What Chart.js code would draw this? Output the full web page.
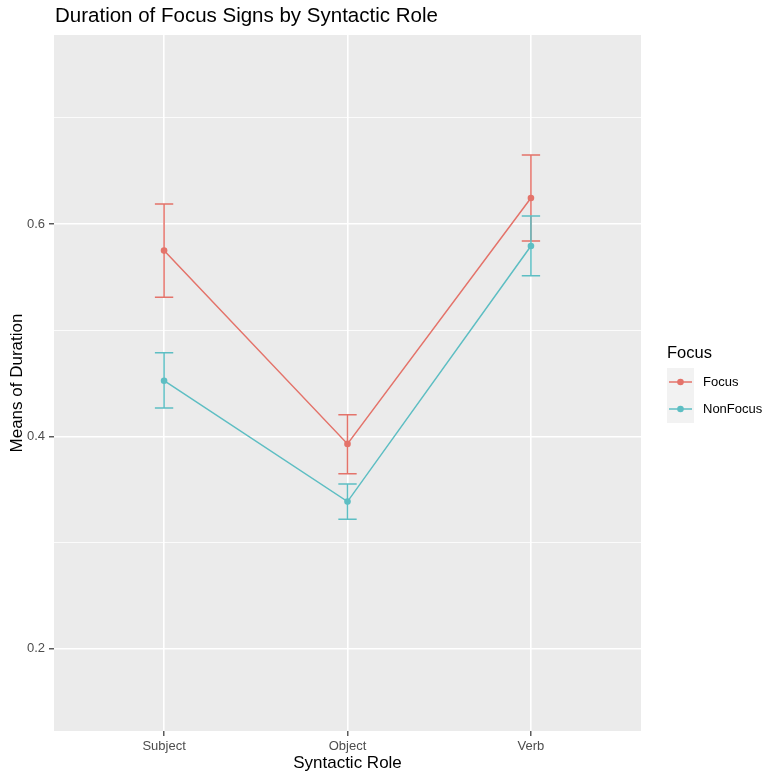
<!DOCTYPE html>
<html>
<head>
<meta charset="utf-8">
<script src="https://cdn.jsdelivr.net/npm/chart.js@4"></script>
<style>
  html, body { margin: 0; padding: 0; background: #fff; }
  #wrap { width: 765px; height: 775px; }
</style>
</head>
<body>
<div id="wrap"><canvas id="chart"></canvas></div>
<script>
const roles = ['Subject', 'Object', 'Verb']
const focusMean = [0.575, 0.393, 0.6245]
const focusLow = [0.531, 0.365, 0.584]
const focusHigh = [0.619, 0.4205, 0.665]
const nonFocusMean = [0.4525, 0.3387, 0.5793]
const nonFocusLow = [0.4267, 0.322, 0.5514]
const nonFocusHigh = [0.4788, 0.3552, 0.6075]
const yMajor = [0.2, 0.4, 0.6]
const yGrid = [0.2, 0.3, 0.4, 0.5, 0.6, 0.7]

const red = '#E4736A'
const teal = '#5DBEC3'
const font = '"Liberation Sans", Arial, sans-serif'

const toPoints = (arr) => arr.map((v, i) => ({ x: i, y: v }))
const isMajor = (v) => yMajor.some((m) => Math.abs(m - v) < 1e-6)

const panelBg = {
	id: 'panelBg',
	beforeDraw(chart) {
		const { ctx, chartArea: a } = chart
		ctx.save()
		ctx.fillStyle = '#EBEBEB'
		ctx.fillRect(a.left, a.top, a.right - a.left, a.bottom - a.top)
		ctx.restore()
	},
}

const errorBars = {
	id: 'errorBars',
	beforeDatasetsDraw(chart) {
		const { ctx, scales } = chart
		const groups = [
			[focusLow, focusHigh, red],
			[nonFocusLow, nonFocusHigh, teal],
		]
		ctx.save()
		ctx.lineWidth = 1.5
		groups.forEach(([lo, hi, col]) => {
			ctx.strokeStyle = col
			lo.forEach((l, i) => {
				const x = scales.x.getPixelForValue(i)
				const xl = scales.x.getPixelForValue(i - 0.05)
				const xr = scales.x.getPixelForValue(i + 0.05)
				const yl = scales.y.getPixelForValue(l)
				const yh = scales.y.getPixelForValue(hi[i])
				ctx.beginPath()
				ctx.moveTo(x, yl); ctx.lineTo(x, yh)
				ctx.moveTo(xl, yl); ctx.lineTo(xr, yl)
				ctx.moveTo(xl, yh); ctx.lineTo(xr, yh)
				ctx.stroke()
			})
		})
		ctx.restore()
	},
}

const decorations = {
	id: 'decorations',
	afterDraw(chart) {
		const { ctx } = chart
		ctx.save()
		// title
		ctx.fillStyle = '#000'
		ctx.font = '20.5px ' + font
		ctx.textAlign = 'left'
		ctx.textBaseline = 'alphabetic'
		ctx.fillText('Duration of Focus Signs by Syntactic Role', 55, 22)
		// legend
		ctx.font = '16.5px ' + font
		ctx.fillText('Focus', 667, 358)
		ctx.fillStyle = '#F2F2F2'
		ctx.fillRect(667, 368, 27, 55)
		const items = [['Focus', red, 382], ['NonFocus', teal, 409]]
		items.forEach(([label, col, y]) => {
			ctx.strokeStyle = col
			ctx.lineWidth = 1.5
			ctx.beginPath()
			ctx.moveTo(669, y); ctx.lineTo(692, y)
			ctx.stroke()
			ctx.fillStyle = col
			ctx.beginPath()
			ctx.arc(680.5, y, 3.3, 0, Math.PI * 2)
			ctx.fill()
			ctx.fillStyle = '#000'
			ctx.font = '13px ' + font
			ctx.textBaseline = 'middle'
			ctx.fillText(label, 703, y + 0.5)
		})
		ctx.restore()
	},
}

new Chart(document.getElementById('chart'), {
	type: 'line',
	data: {
		datasets: [
			{
				label: 'Focus',
				data: toPoints(focusMean),
				borderColor: red,
				backgroundColor: red,
				borderWidth: 1.5,
				pointRadius: 3.3,
				pointBorderWidth: 0,
			},
			{
				label: 'NonFocus',
				data: toPoints(nonFocusMean),
				borderColor: teal,
				backgroundColor: teal,
				borderWidth: 1.5,
				pointRadius: 3.3,
				pointBorderWidth: 0,
			},
		],
	},
	options: {
		responsive: true,
		maintainAspectRatio: false,
		animation: false,
		layout: { padding: { top: 35, right: 124, left: 0, bottom: 0 } },
		scales: {
			x: {
				type: 'linear',
				min: -0.6,
				max: 2.6,
				afterBuildTicks: (scale) => { scale.ticks = roles.map((r, i) => ({ value: i })) },
				afterFit: (scale) => { scale.height = 44 },
				border: { display: false },
				grid: { color: '#FFFFFF', lineWidth: 1.6, tickColor: '#333333', tickLength: 5, tickWidth: 1.2 },
				ticks: {
					callback: (v) => roles[v],
					color: '#4D4D4D',
					font: { family: font, size: 13 },
					padding: 3,
					maxRotation: 0,
				},
				title: {
					display: true,
					text: 'Syntactic Role',
					color: '#000',
					font: { family: font, size: 17 },
					padding: { top: 0, bottom: 1 },
				},
			},
			y: {
				type: 'linear',
				min: 0.1227,
				max: 0.778,
				afterBuildTicks: (scale) => { scale.ticks = yGrid.map((v) => ({ value: v })) },
				afterFit: (scale) => { scale.width = 54 },
				border: { display: false },
				grid: {
					color: '#FFFFFF',
					lineWidth: (c) => (isMajor(c.tick.value) ? 1.6 : 0.8),
					tickColor: (c) => (isMajor(c.tick.value) ? '#333333' : 'rgba(0,0,0,0)'),
					tickWidth: 1.2,
					tickLength: 5,
				},
				ticks: {
					callback: (v) => (isMajor(v) ? v.toFixed(1) : ''),
					color: '#4D4D4D',
					font: { family: font, size: 13 },
					padding: 4,
				},
				title: {
					display: true,
					text: 'Means of Duration',
					color: '#000',
					font: { family: font, size: 17 },
					padding: { top: 7, bottom: 0 },
				},
			},
		},
		plugins: {
			legend: { display: false },
			tooltip: { enabled: false },
		},
	},
	plugins: [panelBg, errorBars, decorations],
})
</script>
</body>
</html>
